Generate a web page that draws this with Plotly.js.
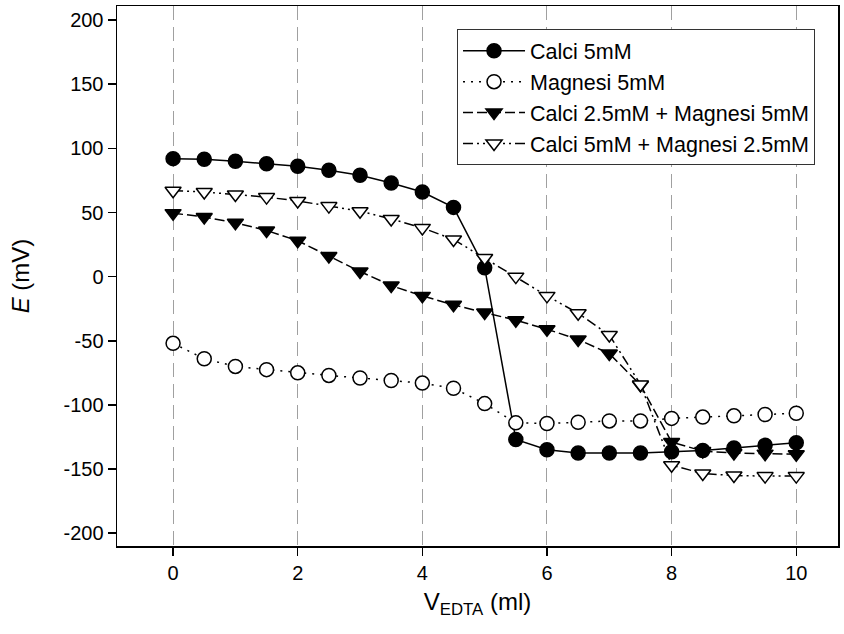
<!DOCTYPE html>
<html>
<head>
<meta charset="utf-8">
<script src="https://cdn.plot.ly/plotly-3.0.1.min.js"></script>
<style>html,body{margin:0;padding:0;background:#fff;}#chart{width:844px;height:634px;}</style>
</head>
<body>
<div id="chart"></div>
<script>
const vEDTA = [0, 0.5, 1, 1.5, 2, 2.5, 3, 3.5, 4, 4.5, 5, 5.5, 6, 6.5, 7, 7.5, 8, 8.5, 9, 9.5, 10];
const calci5 = [92, 91.5, 90, 88, 86, 83, 79, 73, 66, 54, 7, -127, -135, -137.5, -137.5, -137.5, -136.5, -135.5, -133.5, -131.5, -129.5];
const magnesi5 = [-52, -64, -70, -72.5, -75, -77, -79, -81, -83, -87, -99, -114, -114.5, -113.5, -112.5, -112.5, -110.5, -109.5, -108.5, -107.5, -106.5];
const ca25mg5 = [49.5, 46.5, 42, 36, 28, 16, 4, -7, -15, -22, -28, -34, -41, -49, -60, -84.5, -129, -136, -137.5, -138, -138.5];
const ca5mg25 = [67, 66, 64, 62, 59, 55, 51, 45, 38, 29, 14.5, 0, -15, -28.5, -45.5, -84, -147, -153.5, -155, -155.5, -155.5];
const names = ["Calci 5mM", "Magnesi 5mM", "Calci 2.5mM + Magnesi 5mM", "Calci 5mM + Magnesi 2.5mM"];
const xTicks = [0, 2, 4, 6, 8, 10];
const xTickText = ["0", "2", "4", "6", "8", "10"];
const yTicks = [-200, -150, -100, -50, 0, 50, 100, 150, 200];
const yTickText = ["-200", "-150", "-100", "-50", "0", "50", "100", "150", "200"];

const font = "Liberation Sans, Arial, sans-serif";
function tr(y, name, sym, fill, dash) {
  return {
    x: vEDTA, y: y, name: name, type: "scatter", mode: "lines+markers",
    line: {color: "#000", width: 1.5, dash: dash},
    marker: {symbol: sym, size: 14, color: fill, line: {color: "#000", width: 1.5}}
  };
}
const data = [
  tr(calci5, names[0], "circle", "#000", "solid"),
  tr(magnesi5, names[1], "circle", "#fff", "2px,6px"),
  tr(ca25mg5, names[2], "triangle-down", "#000", "10px,4px"),
  tr(ca5mg25, names[3], "triangle-down", "#fff", "10px,4px,2px,4px,2px,4px")
];
const layout = {
  width: 844, height: 634,
  margin: {l: 117, r: 6, t: 6, b: 88},
  paper_bgcolor: "#fff", plot_bgcolor: "#fff",
  font: {family: font, size: 20, color: "#000"},
  showlegend: true,
  legend: {
    x: 0.4716, y: 0.957, xanchor: "left", yanchor: "top",
    bordercolor: "#333", borderwidth: 1, bgcolor: "#fff",
    font: {family: font, size: 21.5, color: "#000"},
    tracegroupgap: 0, itemwidth: 62
  },
  xaxis: {
    range: [-0.9, 10.67],
    tickvals: xTicks, ticktext: xTickText,
    ticks: "outside", ticklen: 8, tickwidth: 1.5, tickcolor: "#000",
    showline: true, linecolor: "#000", linewidth: 1.5, mirror: true,
    showgrid: true, gridcolor: "#a0a0a0", gridwidth: 1, griddash: "14px,7px",
    zeroline: false,
    tickfont: {family: font, size: 20, color: "#000"},
    title: {text: "V<sub>EDTA</sub> (ml)", font: {family: font, size: 24, color: "#000"}, standoff: 10}
  },
  yaxis: {
    range: [-210, 211],
    tickvals: yTicks, ticktext: yTickText,
    ticks: "outside", ticklen: 8, tickwidth: 1.5, tickcolor: "#000",
    showline: true, linecolor: "#000", linewidth: 1.5, mirror: true,
    showgrid: false, zeroline: false,
    tickfont: {family: font, size: 20, color: "#000"},
    title: {text: "<i>E</i> (mV)", font: {family: font, size: 24, color: "#000"}, standoff: 27}
  }
};
Plotly.newPlot("chart", data, layout, {displayModeBar: false, staticPlot: true});
</script>
</body>
</html>
